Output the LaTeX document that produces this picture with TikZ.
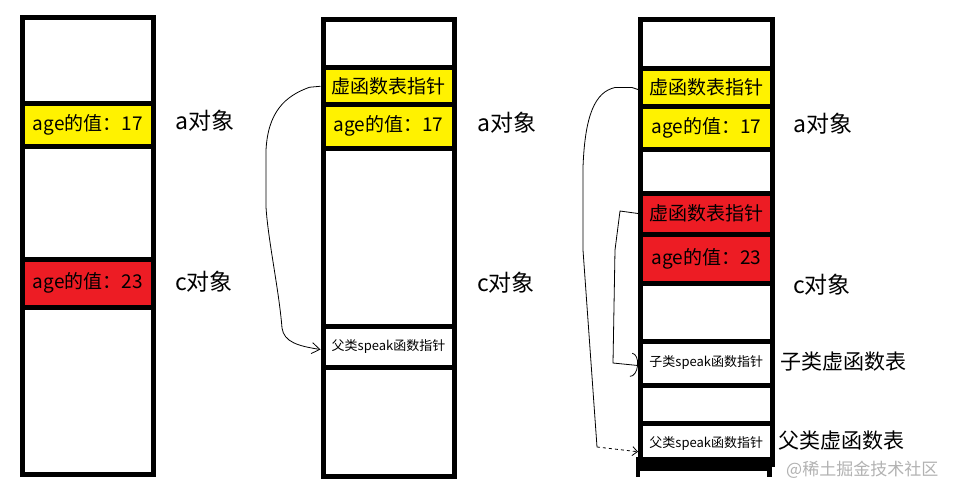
\documentclass[tikz,border=0pt]{standalone}
\usepackage{fontspec}
\setmainfont{Noto Sans CJK SC}
\usetikzlibrary{arrows.meta,calc}
\definecolor{pyellow}{HTML}{FFF200}
\definecolor{pred}{HTML}{ED1C24}
\definecolor{wmgray}{RGB}{178,178,178}
\tikzset{
  cellbox/.style={draw=black, line width=5pt, inner sep=0pt, anchor=north west, font=\fontsize{19}{21}\selectfont},
  smalltxt/.style={font=\fontsize{13}{15}\selectfont},
  objlabel/.style={anchor=west, inner sep=0pt, font=\fontsize{23}{25}\selectfont},
  tbllabel/.style={anchor=west, inner sep=0pt, font=\fontsize{21}{24}\selectfont},
  ptr/.style={line width=0.8pt, black},
}
\newcommand\mcell[7]{\node[cellbox, #6, minimum width={#4pt-#2pt}, minimum height={#5pt-#3pt}] (#1) at (#2,#3) {#7};}
\begin{document}
\begin{tikzpicture}[x=1pt,y=-1pt]
\fill[white] (0,0) rectangle (953,487);
\useasboundingbox (0,0) rectangle (953,487);
% column 1
\mcell{a1}{19.5}{15.5}{151}{100.5}{fill=white}{}
\mcell{g1}{19.5}{100.5}{151}{143.5}{fill=pyellow}{age的值：17}
\mcell{b1}{19.5}{143.5}{151}{256.5}{fill=white}{}
\mcell{h1}{19.5}{256.5}{151}{305}{fill=pred}{age的值：23}
\mcell{c1}{19.5}{305}{151}{472}{fill=white}{}
\node[objlabel] (la1) at (175,121) {a对象};
\node[objlabel] (lc1) at (175,282) {c对象};
% column 2
\mcell{a2}{320.5}{16.7}{451.5}{65.5}{fill=white}{}
\mcell{v2}{320.5}{65.5}{451.5}{102}{fill=pyellow}{虚函数表指针}
\mcell{g2}{320.5}{102}{451.5}{145.5}{fill=pyellow}{age的值：17}
\mcell{b2}{320.5}{145.5}{451.5}{323.5}{fill=white}{}
\mcell{f2}{320.5}{323.5}{451.5}{364.5}{fill=white,smalltxt}{父类speak函数指针}
\mcell{c2}{320.5}{364.5}{451.5}{473.5}{fill=white}{}
\node[objlabel] (la2) at (477,123) {a对象};
\node[objlabel] (lc2) at (477,283) {c对象};
% column 3
\mcell{a3}{638}{17.5}{769.5}{66.5}{fill=white}{}
\mcell{v3}{638}{66.5}{769.5}{103.5}{fill=pyellow}{虚函数表指针}
\mcell{g3}{638}{103.5}{769.5}{146.5}{fill=pyellow}{age的值：17}
\mcell{b3}{638}{146.5}{769.5}{190.5}{fill=white}{}
\mcell{vr3}{638}{190.5}{769.5}{231.5}{fill=pred}{虚函数表指针}
\mcell{h3}{638}{231.5}{769.5}{280.5}{fill=pred}{age的值：23}
\mcell{d3}{638}{280.5}{769.5}{338.5}{fill=white}{}
\mcell{s3}{638}{338.5}{769.5}{382.5}{fill=white,smalltxt}{子类speak函数指针}
\mcell{e3}{638}{382.5}{769.5}{420.5}{fill=white}{}
\mcell{f3}{638}{420.5}{769.5}{462}{fill=white,smalltxt}{父类speak函数指针}
\fill[black] (635.5,457) rectangle (772,471);
\draw[line width=4.5pt] (638,462) -- (638,477) (769.5,462) -- (769.5,477);
\node[objlabel] (la3) at (793,124) {a对象};
\node[objlabel] (lc3) at (793,285) {c对象};
\node[tbllabel] (ls3) at (780,362) {子类虚函数表};
\node[tbllabel] (lf3) at (778,441) {父类虚函数表};
\node[anchor=west, inner sep=0pt, text=wmgray, font=\fontsize{17}{19}\selectfont] (wm) at (786,470) {@稀土掘金技术社区};
% pointers
\draw[ptr,-{Straight Barb[length=8pt,width=11pt]}] (v2.west) -- ++(-11,1)
  .. controls (285,96) and (268,112) .. (266,150) -- (266,207)
  .. controls (268,240) and (279,290) .. (282,328)
  .. controls (284,342) and (298,346) .. ($(f2.west)+(0,3)$);
\coordinate (cA) at (597,447);
\draw[ptr] ($(v3.west)+(0,2)$) -- ++(-6,-2) -- ++(-17,0)
  .. controls (595,92) and (585,115) .. (583,167) -- (583,250) -- (cA);
\draw[ptr,dashed,-{Straight Barb[length=5pt,width=9pt]}] (cA) -- ($(f3.west)+(0,8)$);
\draw[ptr,-{Arc Barb[length=7pt,width=24pt]}] (vr3.west) -- (620,211) -- (615,250) -- (613,363) -- ($(s3.west)+(0,2.5)$);
\end{tikzpicture}
\end{document}
